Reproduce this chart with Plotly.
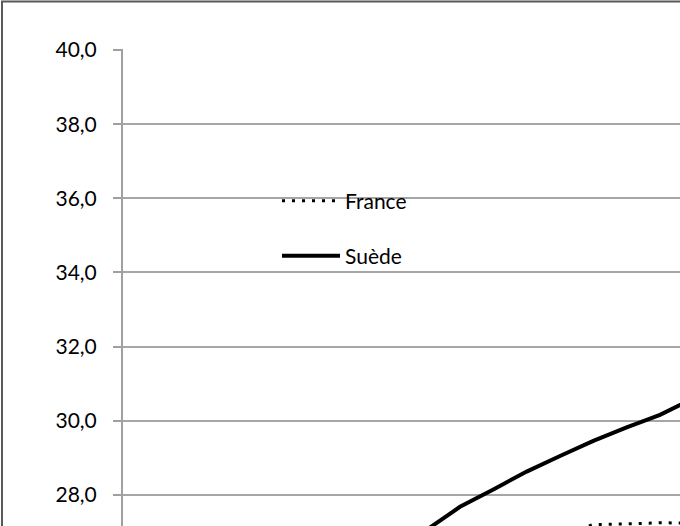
import plotly.graph_objects as go

years_suede = [1999, 2000, 2001, 2002, 2003, 2004, 2005, 2006, 2007]
suede = [27.06, 27.68, 28.15, 28.63, 29.05, 29.46, 29.82, 30.16, 30.60]

years_france = [2003, 2004, 2005, 2006, 2007]
france = [26.95, 27.20, 27.22, 27.25, 27.24]

y_ticks = [28, 30, 32, 34, 36, 38, 40]

FONT = "Lato"
W, H = 680, 526
L, T = 123, 49
plot_w, plot_h = W - L, H - T

fig = go.Figure()
fig.add_trace(go.Scatter(
    x=years_france, y=france, mode="lines", name="France",
    line=dict(color="black", width=3, dash="3px,7px"),
    legend="legend",
))
fig.add_trace(go.Scatter(
    x=years_suede, y=suede, mode="lines", name="Suède",
    line=dict(color="black", width=4),
    legend="legend2",
))

def px_x(p):
    return (p - L) / plot_w

def px_y(p):
    return (H - p) / plot_h

legend_common = dict(
    font=dict(family=FONT, size=21, color="black"),
    bgcolor="rgba(0,0,0,0)", borderwidth=0,
    xanchor="left", yanchor="middle", itemwidth=58,
)

fig.update_layout(
    width=W, height=H, autosize=False,
    margin=dict(l=L, r=0, t=T, b=0, pad=0),
    paper_bgcolor="white", plot_bgcolor="white",
    separators=",.",
    font=dict(family=FONT, size=21, color="black"),
    xaxis=dict(range=[1989.89, 2006.6], showgrid=False, zeroline=False,
               showticklabels=False, showline=False, ticks=""),
    yaxis=dict(range=[27.163, 40.027], tickvals=y_ticks, tickformat=".1f",
               showgrid=True, gridcolor="#a6a6a6", gridwidth=1.5,
               zeroline=False, showline=True, linecolor="#a0a0a0", linewidth=2,
               ticks="outside", ticklen=8, tickcolor="#a0a0a0", tickwidth=1.5,
               ticklabelstandoff=12,
               tickfont=dict(family=FONT, size=21, color="black")),
    legend=dict(x=px_x(277), y=px_y(201), **legend_common),
    legend2=dict(x=px_x(277), y=px_y(256), **legend_common),
    showlegend=True,
    shapes=[dict(type="rect", xref="paper", yref="paper",
                 x0=px_x(2), x1=1.3, y0=-0.3, y1=px_y(1.5),
                 line=dict(color="#595959", width=2), layer="above")],
)

fig.write_html(
    "out.html",
    config={"displayModeBar": False},
    post_script="document.body.style.margin='0';"
                "document.documentElement.style.overflow='hidden';"
                "document.body.style.overflow='hidden';",
)
